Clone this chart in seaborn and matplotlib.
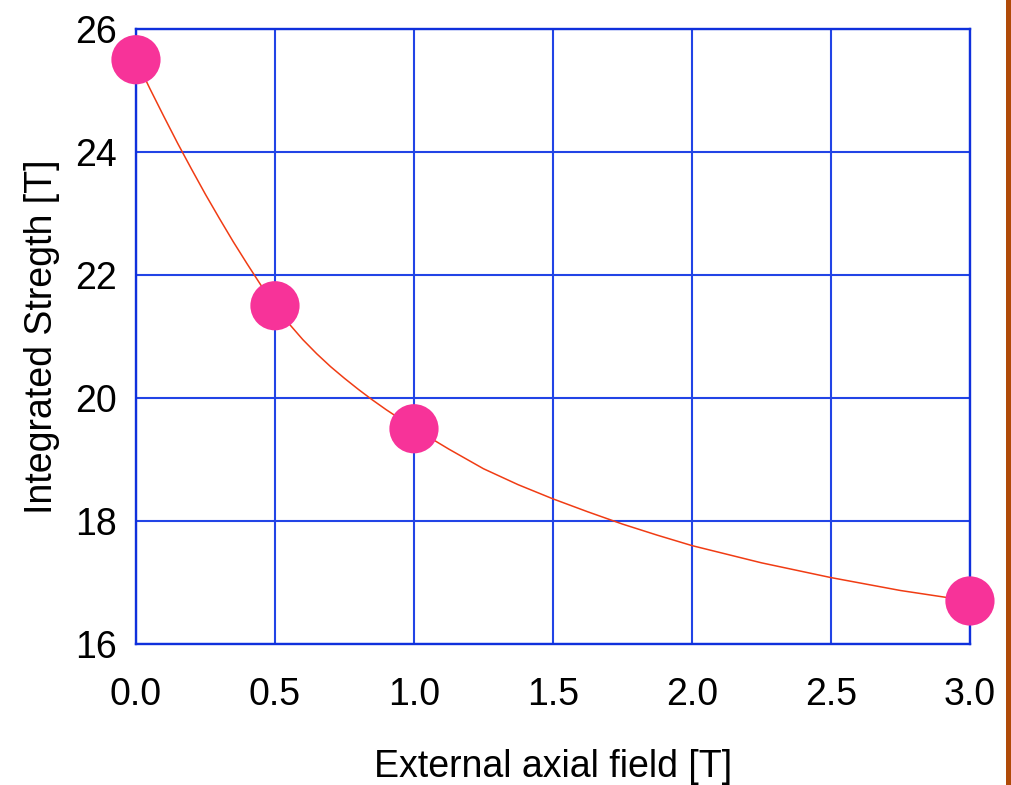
import matplotlib
matplotlib.use("Agg")
import matplotlib.pyplot as plt
from matplotlib.patches import Rectangle
import seaborn as sns
import pandas as pd

# Measured points
field_T = [0.0, 0.5, 1.0, 3.0]
strength_T = [25.5, 21.5, 19.5, 16.7]

# Smooth trend curve through the measurements
curve_x = [0.0, 0.05, 0.10, 0.15, 0.20, 0.25, 0.30, 0.35, 0.40, 0.45, 0.50,
           0.55, 0.60, 0.65, 0.70, 0.75, 0.80, 0.85, 0.90, 0.95, 1.00,
           1.125, 1.25, 1.375, 1.50, 1.625, 1.75, 1.875, 2.00, 2.25, 2.50,
           2.75, 3.00]
curve_y = [25.50, 25.03, 24.58, 24.14, 23.72, 23.31, 22.92, 22.54, 22.18,
           21.83, 21.50, 21.21, 20.95, 20.72, 20.51, 20.32, 20.14, 19.97,
           19.81, 19.66, 19.51, 19.17, 18.85, 18.59, 18.36, 18.15, 17.95,
           17.77, 17.60, 17.32, 17.08, 16.87, 16.70]

x_ticks = [0.0, 0.5, 1.0, 1.5, 2.0, 2.5, 3.0]
y_ticks = [16, 18, 20, 22, 24, 26]

points = pd.DataFrame({"field": field_T, "strength": strength_T})
curve = pd.DataFrame({"field": curve_x, "strength": curve_y})

sns.set_theme(style="white")
plt.rcParams["font.family"] = ["Liberation Sans", "DejaVu Sans"]

fig = plt.figure(figsize=(10.11, 7.85), dpi=100)
ax = fig.add_axes([0.1345, 0.1796, 0.8249, 0.7835])

grid_blue = "#2244e6"
ax.set_xlim(0, 3)
ax.set_ylim(16, 26)
ax.set_xticks(x_ticks)
ax.set_yticks(y_ticks)
ax.set_xticklabels([f"{v:.1f}" for v in x_ticks])
ax.set_yticklabels([str(v) for v in y_ticks])
ax.grid(True, color=grid_blue, linewidth=1.5)
ax.set_axisbelow(True)
for s in ax.spines.values():
    s.set_color("#0f30dc")
    s.set_linewidth(1.7)

sns.lineplot(data=curve, x="field", y="strength", ax=ax, color="#f03c14",
             linewidth=1.1, sort=False, zorder=3)
sns.scatterplot(data=points, x="field", y="strength", ax=ax, color="#f73399",
                s=1255, edgecolor="none", linewidth=0, zorder=4, clip_on=False)

ax.tick_params(axis="both", length=0, labelsize=27, colors="black")
ax.tick_params(axis="x", pad=24)
ax.tick_params(axis="y", pad=14)
ax.set_xlabel("External axial field [T]", fontsize=27, labelpad=26, color="black")
ax.set_ylabel("Integrated Stregth [T]", fontsize=27, labelpad=11, color="black")

# Vertical rule along the right edge of the figure
fig.add_artist(Rectangle((1006 / 1011, 0), 5 / 1011, 1, transform=fig.transFigure,
                         facecolor="#b04a08", edgecolor="none"))

fig.savefig("out.png", dpi=100)
